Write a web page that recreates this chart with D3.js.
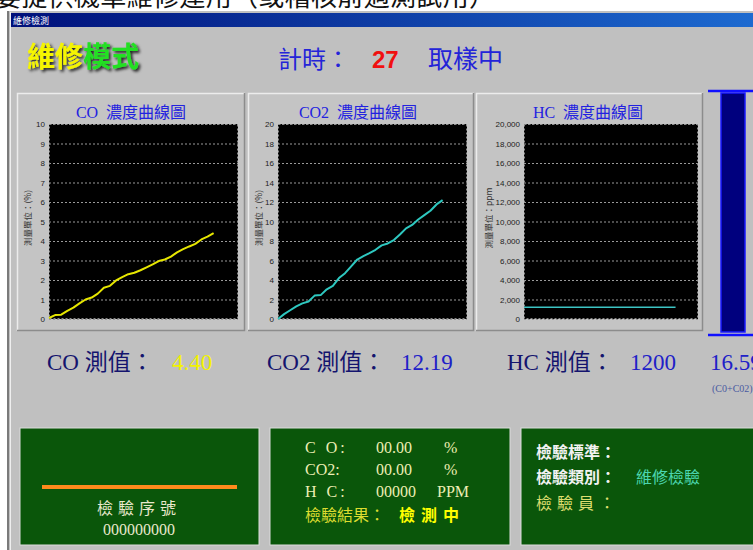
<!DOCTYPE html>
<html>
<head>
<meta charset="utf-8">
<script src="https://cdn.jsdelivr.net/npm/d3@7"></script>
<style>
  body { margin: 0; background: #fff; overflow: hidden; }
  svg { display: block; }
</style>
</head>
<body>
<div id="screen"></div>
<script>
// Sample times (s) and gas readings
const seconds = [0, 1, 2, 3, 4, 5, 6, 7, 8, 9, 10, 11, 12, 13, 14, 15, 16, 17, 18, 19, 20, 21, 22, 23, 24, 25, 26, 27];
const coValues = [0.05, 0.2, 0.22, 0.42, 0.58, 0.8, 1.0, 1.1, 1.3, 1.6, 1.7, 1.98, 2.15, 2.3, 2.37, 2.5, 2.65, 2.8, 2.97, 3.05, 3.2, 3.42, 3.58, 3.72, 3.85, 4.08, 4.22, 4.4];
const co2Values = [0.0, 0.5, 0.9, 1.3, 1.6, 1.8, 2.4, 2.45, 3.05, 3.4, 4.2, 4.7, 5.4, 6.1, 6.44, 6.75, 7.1, 7.55, 7.75, 8.1, 8.66, 9.3, 9.65, 10.2, 10.65, 11.1, 11.75, 12.19];
const hcValues = [1200, 1200, 1200, 1200, 1200, 1200, 1200, 1200, 1200, 1200, 1200, 1200, 1200, 1200, 1200, 1200, 1200, 1200, 1200, 1200, 1200, 1200, 1200, 1200, 1200, 1200, 1200, 1200];

// Axis ticks
const coTicks = [0, 1, 2, 3, 4, 5, 6, 7, 8, 9, 10];
const co2Ticks = [0, 2, 4, 6, 8, 10, 12, 14, 16, 18, 20];
const hcTicks = [0, 2000, 4000, 6000, 8000, 10000, 12000, 14000, 16000, 18000, 20000];
const timeDomain = [0, 31];

// Chart labels
const chartTitles = ["CO  濃度曲線圖", "CO2  濃度曲線圖", "HC  濃度曲線圖"];
const unitLabels = ["測量單位：(%)", "測量單位：(%)", "測量單位：ppm"];

// Reading row
const readingLabels = ["CO 測值：", "CO2 測值：", "HC 測值："];
const readingValues = ["4.40", "12.19", "1200"];

const width = 753;
const height = 550;
const serif = "'Liberation Serif', 'Noto Sans CJK TC', serif";
const sans = "'Noto Sans CJK TC', sans-serif";

const svg = d3.select("#screen")
  .append("svg")
  .attr("width", width)
  .attr("height", height);

const defs = svg.append("defs");
const grad = defs.append("linearGradient").attr("id", "titlebar");
grad.append("stop").attr("offset", "0%").attr("stop-color", "#00107a");
grad.append("stop").attr("offset", "100%").attr("stop-color", "#1d6ad0");

const shadow = defs.append("filter").attr("id", "shadow")
  .attr("x", "-10%").attr("y", "-20%").attr("width", "130%").attr("height", "150%");
shadow.append("feDropShadow")
  .attr("dx", 2).attr("dy", 2).attr("stdDeviation", 1.6)
  .attr("flood-color", "#000").attr("flood-opacity", 0.85);

// Cut-off caption above the window
svg.append("text")
  .attr("x", -5).attr("y", 6)
  .attr("font-family", sans).attr("font-size", 26)
  .attr("fill", "#111")
  .attr("textLength", 500).attr("lengthAdjust", "spacing")
  .text("要提供機車維修運用（或稽核前適測試用）");

// Window frame
svg.append("rect").attr("x", 7).attr("y", 11).attr("width", width - 7).attr("height", height - 11).attr("fill", "#c0c0c0");
svg.append("line").attr("x1", 8).attr("x2", 8).attr("y1", 11).attr("y2", height).attr("stroke", "#7a7a7a").attr("stroke-width", 2);
svg.append("line").attr("x1", 10.5).attr("x2", 10.5).attr("y1", 12).attr("y2", height).attr("stroke", "#efefef");
svg.append("rect").attr("x", 11).attr("y", 13).attr("width", width - 11).attr("height", 14).attr("fill", "url(#titlebar)");
svg.append("text")
  .attr("x", 13).attr("y", 24)
  .attr("font-family", sans).attr("font-size", 9).attr("fill", "#fff")
  .text("維修檢測");

// Header
const mode = svg.append("text")
  .attr("x", 27).attr("y", 67)
  .attr("font-family", sans).attr("font-size", 28).attr("font-weight", "bold")
  .attr("filter", "url(#shadow)");
mode.append("tspan").attr("fill", "#f5f500").text("維修");
mode.append("tspan").attr("fill", "#22e022").text("模式");

svg.append("text")
  .attr("x", 278).attr("y", 68)
  .attr("font-family", sans).attr("font-size", 24).attr("fill", "#2424d8")
  .text("計時：");
svg.append("text")
  .attr("x", 372).attr("y", 68)
  .attr("font-family", "'Liberation Sans', sans-serif").attr("font-size", 24).attr("font-weight", "bold")
  .attr("fill", "#f01010")
  .text("27");
svg.append("text")
  .attr("x", 428).attr("y", 68)
  .attr("font-family", sans).attr("font-size", 25).attr("fill", "#2424d8")
  .text("取樣中");

// Chart panels
const charts = [
  { values: coValues, ticks: coTicks, color: "#e6e600", w: 2, panel: [17, 245], plot: [49, 238], titleX: 131, unitX: 28, fmt: d3.format("d") },
  { values: co2Values, ticks: co2Ticks, color: "#2ec8c0", w: 2, panel: [248, 474], plot: [278, 467], titleX: 358, unitX: 259, fmt: d3.format("d") },
  { values: hcValues, ticks: hcTicks, color: "#3cc4c4", w: 1.6, panel: [476, 703], plot: [524, 698], titleX: 588, unitX: 489, fmt: d3.format(",") }
];

const panelTop = 93;
const panelBottom = 331;
const plotTop = 124;
const plotBottom = 319;

charts.forEach((c, i) => {
  const g = svg.append("g");

  // raised panel
  g.append("rect")
    .attr("x", c.panel[0]).attr("y", panelTop)
    .attr("width", c.panel[1] - c.panel[0]).attr("height", panelBottom - panelTop)
    .attr("fill", "#c4c4c4");
  g.append("path")
    .attr("d", `M${c.panel[0] + 0.5},${panelBottom}V${panelTop + 0.5}H${c.panel[1]}`)
    .attr("fill", "none").attr("stroke", "#ececec").attr("stroke-width", 1.5);
  g.append("path")
    .attr("d", `M${c.panel[0]},${panelBottom - 0.5}H${c.panel[1] - 0.5}V${panelTop}`)
    .attr("fill", "none").attr("stroke", "#8c8c8c").attr("stroke-width", 1.5);

  g.append("text")
    .attr("x", c.titleX).attr("y", 118)
    .attr("text-anchor", "middle")
    .attr("font-family", serif).attr("font-size", 16).attr("fill", "#2222e0")
    .attr("xml:space", "preserve")
    .style("white-space", "pre")
    .text(chartTitles[i]);

  const x = d3.scaleLinear().domain(timeDomain).range(c.plot);
  const y = d3.scaleLinear()
    .domain([c.ticks[0], c.ticks[c.ticks.length - 1]])
    .range([plotBottom, plotTop]);

  g.append("rect")
    .attr("x", c.plot[0]).attr("y", plotTop)
    .attr("width", c.plot[1] - c.plot[0]).attr("height", plotBottom - plotTop)
    .attr("fill", "#000");

  // dashed grid
  const grid = g.append("g")
    .attr("transform", `translate(${c.plot[0]},0)`)
    .call(d3.axisLeft(y).tickValues(c.ticks).tickSize(-(c.plot[1] - c.plot[0])).tickFormat(""));
  grid.select(".domain").remove();
  grid.selectAll("line")
    .attr("stroke", "#9a9a9a").attr("stroke-dasharray", "2,2");

  g.append("rect")
    .attr("x", c.plot[0] + 0.5).attr("y", plotTop + 0.5)
    .attr("width", c.plot[1] - c.plot[0] - 1).attr("height", plotBottom - plotTop - 1)
    .attr("fill", "none").attr("stroke", "#8a8a8a").attr("stroke-dasharray", "2,2");

  // tick labels
  const axis = g.append("g")
    .attr("transform", `translate(${c.plot[0]},0)`)
    .call(d3.axisLeft(y).tickValues(c.ticks).tickSize(0).tickPadding(4).tickFormat(c.fmt));
  axis.select(".domain").remove();
  axis.selectAll("text")
    .attr("font-family", "'Liberation Sans', sans-serif")
    .attr("font-size", 8).attr("fill", "#222");

  g.append("text")
    .attr("transform", `translate(${c.unitX},218) rotate(-90)`)
    .attr("text-anchor", "middle").attr("dy", "0.35em")
    .attr("font-family", sans).attr("font-size", 8.5).attr("fill", "#333")
    .text(unitLabels[i]);

  const line = d3.line()
    .x((d, k) => x(seconds[k]))
    .y(d => y(d));

  g.append("path")
    .datum(c.values)
    .attr("fill", "none")
    .attr("stroke", c.color)
    .attr("stroke-width", c.w)
    .attr("stroke-linejoin", "round")
    .attr("d", line);
});

// Blue gauge on the right
svg.append("line").attr("x1", 708).attr("x2", width).attr("y1", 91).attr("y2", 91).attr("stroke", "#1010ff").attr("stroke-width", 2.5);
svg.append("rect").attr("x", 721).attr("y", 93).attr("width", 24).attr("height", 239)
  .attr("fill", "#00007e").attr("stroke", "#1a1aff").attr("stroke-width", 1.5);
svg.append("line").attr("x1", 708).attr("x2", width).attr("y1", 335).attr("y2", 335).attr("stroke", "#1010ff").attr("stroke-width", 2.5);

// Reading row
const readingX = [47, 267, 507];
const valueX = [172, 401, 630];
const valueColors = ["#f2f200", "#2020c8", "#2020c8"];
readingLabels.forEach((label, i) => {
  svg.append("text")
    .attr("x", readingX[i]).attr("y", 370)
    .attr("font-family", serif).attr("font-size", 23).attr("fill", "#14146e")
    .text(label);
  svg.append("text")
    .attr("x", valueX[i]).attr("y", 370)
    .attr("font-family", serif).attr("font-size", 23).attr("fill", valueColors[i])
    .text(readingValues[i]);
});
svg.append("text")
  .attr("x", 710).attr("y", 370)
  .attr("font-family", serif).attr("font-size", 23).attr("fill", "#2020c8")
  .text("16.59");
svg.append("text")
  .attr("x", 712).attr("y", 392)
  .attr("font-family", serif).attr("font-size", 10).attr("fill", "#4a5aa0")
  .text("(C0+C02)");

// Bottom status panels
const boxX = [[20, 259], [270, 510], [521, 760]];
boxX.forEach(b => {
  svg.append("rect")
    .attr("x", b[0]).attr("y", 428)
    .attr("width", b[1] - b[0]).attr("height", 117)
    .attr("fill", "#0a560a").attr("stroke", "#dcdcdc").attr("stroke-width", 1);
});

svg.append("rect").attr("x", 42).attr("y", 485).attr("width", 195).attr("height", 4).attr("fill", "#ff8a1c");
svg.append("text")
  .attr("x", 139).attr("y", 514).attr("text-anchor", "middle")
  .attr("font-family", sans).attr("font-size", 16).attr("fill", "#e8e8cc")
  .attr("letter-spacing", 5)
  .text("檢驗序號");
svg.append("text")
  .attr("x", 139).attr("y", 535).attr("text-anchor", "middle")
  .attr("font-family", serif).attr("font-size", 16).attr("fill", "#e8e8cc")
  .text("000000000");

const gasNames = ["C O:", "CO2:", "H C:"];
const gasZeros = ["00.00", "00.00", "00000"];
const gasUnits = ["%", "%", "PPM"];
const gasY = [453, 475, 497];
const gasUnitX = [444, 444, 437];
gasNames.forEach((n, i) => {
  const t = svg.append("g")
    .attr("font-family", serif).attr("font-size", 16).attr("fill", "#eeeeb4");
  t.append("text").attr("x", 305).attr("y", gasY[i]).attr("letter-spacing", n === "CO2:" ? 0 : 3).text(n);
  t.append("text").attr("x", 376).attr("y", gasY[i]).text(gasZeros[i]);
  t.append("text").attr("x", gasUnitX[i]).attr("y", gasY[i]).text(gasUnits[i]);
});
svg.append("text")
  .attr("x", 305).attr("y", 521)
  .attr("font-family", sans).attr("font-size", 16).attr("fill", "#dcdc30")
  .text("檢驗結果：");
svg.append("text")
  .attr("x", 399).attr("y", 521)
  .attr("font-family", sans).attr("font-size", 16).attr("font-weight", "bold").attr("fill", "#ffff00")
  .attr("letter-spacing", 6)
  .text("檢測中");

svg.append("text")
  .attr("x", 536).attr("y", 458)
  .attr("font-family", sans).attr("font-size", 16).attr("font-weight", "bold").attr("fill", "#f2f2f2")
  .text("檢驗標準：");
svg.append("text")
  .attr("x", 536).attr("y", 483)
  .attr("font-family", sans).attr("font-size", 16).attr("font-weight", "bold").attr("fill", "#f2f2f2")
  .text("檢驗類別：");
svg.append("text")
  .attr("x", 636).attr("y", 483)
  .attr("font-family", sans).attr("font-size", 16).attr("fill", "#4cd6b0")
  .text("維修檢驗");
svg.append("text")
  .attr("x", 536).attr("y", 509)
  .attr("font-family", sans).attr("font-size", 16).attr("fill", "#dede70")
  .attr("letter-spacing", 5)
  .text("檢驗員：");
</script>
</body>
</html>
